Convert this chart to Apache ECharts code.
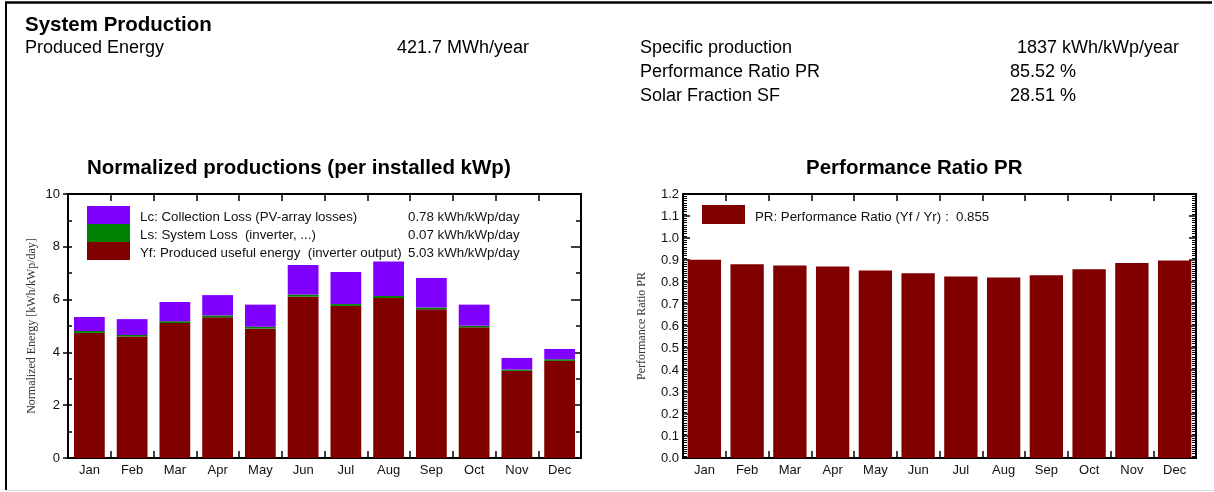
<!DOCTYPE html>
<html>
<head>
<meta charset="utf-8">
<script src="https://cdn.jsdelivr.net/npm/echarts@6/dist/echarts.min.js"></script>
<style>
  html, body { margin: 0; padding: 0; background: #fff; }
  #chart { width: 1214px; height: 492px; }
</style>
</head>
<body>
<div id="chart"></div>
<script>
// Monthly categories
const months = ['Jan', 'Feb', 'Mar', 'Apr', 'May', 'Jun', 'Jul', 'Aug', 'Sep', 'Oct', 'Nov', 'Dec'];

// Normalized productions (kWh/kWp/day), stacked bottom to top: Yf, Ls, Lc
const yfValues = [4.74, 4.60, 5.11, 5.33, 4.90, 6.11, 5.76, 6.06, 5.63, 4.95, 3.30, 3.68];
const lsValues = [0.07, 0.06, 0.07, 0.07, 0.07, 0.08, 0.07, 0.08, 0.07, 0.06, 0.05, 0.06];
const lcValues = [0.53, 0.60, 0.73, 0.77, 0.84, 1.12, 1.22, 1.30, 1.12, 0.80, 0.44, 0.39];

// Monthly performance ratio
const prValues = [0.901, 0.881, 0.875, 0.870, 0.852, 0.840, 0.825, 0.820, 0.831, 0.858, 0.886, 0.898];

// Legend names and yearly averages
const lossNames = [
  'Lc: Collection Loss (PV-array losses)',
  'Ls: System Loss  (inverter, ...)',
  'Yf: Produced useful energy  (inverter output)'
];
const lossAverages = ['0.78 kWh/kWp/day', '0.07 kWh/kWp/day', '5.03 kWh/kWp/day'];
const prName = 'PR: Performance Ratio (Yf / Yr) :  0.855';

// Summary block
const summaryLeft = [['Produced Energy', '421.7 MWh/year']];
const summaryRight = [
  ['Specific production', '1837 kWh/kWp/year'],
  ['Performance Ratio PR', '85.52 %'],
  ['Solar Fraction SF', '28.51 %']
];

const SANS = 'Liberation Sans, Arial, Helvetica, sans-serif';
const SERIF = 'Liberation Serif, Times New Roman, serif';
const INK = '#111';

const chart = echarts.init(document.getElementById('chart'), null, { renderer: 'canvas' });

// text placed by its vertical centre
function txt(x, y, text, size, weight) {
  return {
    type: 'text', left: x, top: y - size * 0.45,
    style: { text: text, font: (weight || 'normal') + ' ' + size + 'px ' + SANS, fill: '#000' }
  };
}

const graphics = [
  // page frame
  { type: 'line', shape: { x1: 5, y1: 2.5, x2: 1212, y2: 2.5 }, style: { stroke: '#000', lineWidth: 2.5 } },
  { type: 'line', shape: { x1: 6, y1: 2, x2: 6, y2: 490 }, style: { stroke: '#000', lineWidth: 2 } },
  { type: 'line', shape: { x1: 6, y1: 490.5, x2: 1214, y2: 490.5 }, style: { stroke: '#ddd', lineWidth: 1 } },
  txt(25, 24, 'System Production', 20.5, 'bold'),
  txt(25, 47, summaryLeft[0][0], 18),
  txt(397, 47, summaryLeft[0][1], 18),
  // chart titles
  txt(87, 167, 'Normalized productions (per installed kWp)', 20.5, 'bold'),
  txt(806, 167, 'Performance Ratio PR', 20.5, 'bold')
];
summaryRight.forEach((row, i) => {
  const y = 47 + i * 24;
  graphics.push(txt(640, y, row[0], 18));
  graphics.push(txt(i === 0 ? 1017 : 1010, y, row[1], 18));
});

const tickStyle = { color: '#000', width: 1.5 };
const labelStyle = { fontFamily: SANS, fontSize: 13, color: INK };

function catAxis(grid, pos) {
  return {
    type: 'category', gridIndex: grid, position: pos, data: months,
    axisLine: { show: true, onZero: false, lineStyle: { color: '#000', width: 2 } },
    axisTick: { show: true, inside: true, length: 7, lineStyle: tickStyle },
    axisLabel: pos === 'bottom' ? Object.assign({ margin: 6 }, labelStyle) : { show: false },
    splitLine: { show: false }
  };
}

function valAxis(grid, pos, min, max, interval, opts) {
  return Object.assign({
    type: 'value', gridIndex: grid, position: pos, min: min, max: max, interval: interval,
    axisLine: { show: true, onZero: false, lineStyle: { color: '#000', width: 2 } },
    splitLine: { show: false }
  }, opts);
}

const LEG_FONT = 13.3;

const option = {
  animation: false,
  backgroundColor: '#fff',
  graphic: graphics,
  grid: [
    { left: 68, top: 194, width: 513, height: 264, show: true, borderColor: '#000', borderWidth: 2, backgroundColor: 'transparent' },
    { left: 683, top: 194, width: 513, height: 264, show: true, borderColor: '#000', borderWidth: 2, backgroundColor: 'transparent' }
  ],
  xAxis: [
    catAxis(0, 'bottom'), catAxis(0, 'top'),
    catAxis(1, 'bottom'), catAxis(1, 'top')
  ],
  yAxis: [
    // left chart, labelled axis
    valAxis(0, 'left', 0, 10, 2, {
      name: 'Normalized Energy [kWh/kWp/day]', nameLocation: 'middle', nameRotate: 90, nameGap: 30,
      nameTextStyle: { fontFamily: SERIF, fontSize: 12, color: '#333' },
      axisTick: { show: true, inside: false, length: 5, lineStyle: tickStyle },
      axisLabel: Object.assign({ margin: 8 }, labelStyle)
    }),
    // left chart, inner ticks on both sides
    valAxis(0, 'left', 0, 10, 1, {
      axisTick: { show: true, inside: true, length: 4, lineStyle: tickStyle },
      axisLabel: { show: false }
    }),
    valAxis(0, 'right', 0, 10, 2, {
      axisTick: { show: true, inside: true, length: 10, lineStyle: tickStyle },
      minorTick: { show: true, splitNumber: 2, length: 5, lineStyle: tickStyle },
      axisLabel: { show: false }
    }),
    // right chart
    valAxis(1, 'left', 0, 1.2, 0.1, {
      name: 'Performance Ratio PR', nameLocation: 'middle', nameRotate: 90, nameGap: 35,
      nameTextStyle: { fontFamily: SERIF, fontSize: 12, color: '#333' },
      axisTick: { show: true, inside: true, length: 7, lineStyle: tickStyle },
      minorTick: { show: true, splitNumber: 10, length: 4, lineStyle: { color: '#000', width: 1 } },
      axisLabel: Object.assign({ margin: 4, formatter: v => v.toFixed(1) }, labelStyle)
    }),
    valAxis(1, 'right', 0, 1.2, 0.1, {
      axisTick: { show: true, inside: true, length: 7, lineStyle: tickStyle },
      minorTick: { show: true, splitNumber: 10, length: 4, lineStyle: { color: '#000', width: 1 } },
      axisLabel: { show: false }
    })
  ],
  legend: [
    {
      data: lossNames, orient: 'vertical', left: 87, top: 206, padding: 0,
      itemWidth: 43, itemHeight: 18, itemGap: 0, icon: 'rect', selectedMode: false,
      formatter: name => '{a|' + name + '}{b|' + lossAverages[lossNames.indexOf(name)] + '}',
      textStyle: {
        fontFamily: SANS, fontSize: LEG_FONT, color: INK, lineHeight: 14,
        rich: {
          a: { fontFamily: SANS, fontSize: LEG_FONT, color: INK, width: 268, lineHeight: 14, padding: [4, 0, 0, 5] },
          b: { fontFamily: SANS, fontSize: LEG_FONT, color: INK, lineHeight: 14, padding: [4, 0, 0, 0] }
        }
      }
    },
    {
      data: [prName], left: 702, top: 205, padding: 0,
      itemWidth: 43, itemHeight: 19, icon: 'rect', selectedMode: false,
      formatter: name => '{a|' + name + '}',
      textStyle: {
        fontFamily: SANS, fontSize: LEG_FONT, color: INK, lineHeight: 14,
        rich: {
          a: { fontFamily: SANS, fontSize: LEG_FONT, color: INK, lineHeight: 14, padding: [5, 0, 0, 5] }
        }
      }
    }
  ],
  series: [
    { name: lossNames[2], type: 'bar', stack: 'energy', xAxisIndex: 0, yAxisIndex: 0, barWidth: '72%', data: yfValues, itemStyle: { color: '#800000' } },
    { name: lossNames[1], type: 'bar', stack: 'energy', xAxisIndex: 0, yAxisIndex: 0, barWidth: '72%', data: lsValues, itemStyle: { color: '#008000' } },
    { name: lossNames[0], type: 'bar', stack: 'energy', xAxisIndex: 0, yAxisIndex: 0, barWidth: '72%', data: lcValues, itemStyle: { color: '#8000ff' } },
    { name: prName, type: 'bar', xAxisIndex: 2, yAxisIndex: 3, barWidth: '78%', data: prValues, itemStyle: { color: '#800000' } }
  ]
};

chart.setOption(option);
</script>
</body>
</html>
